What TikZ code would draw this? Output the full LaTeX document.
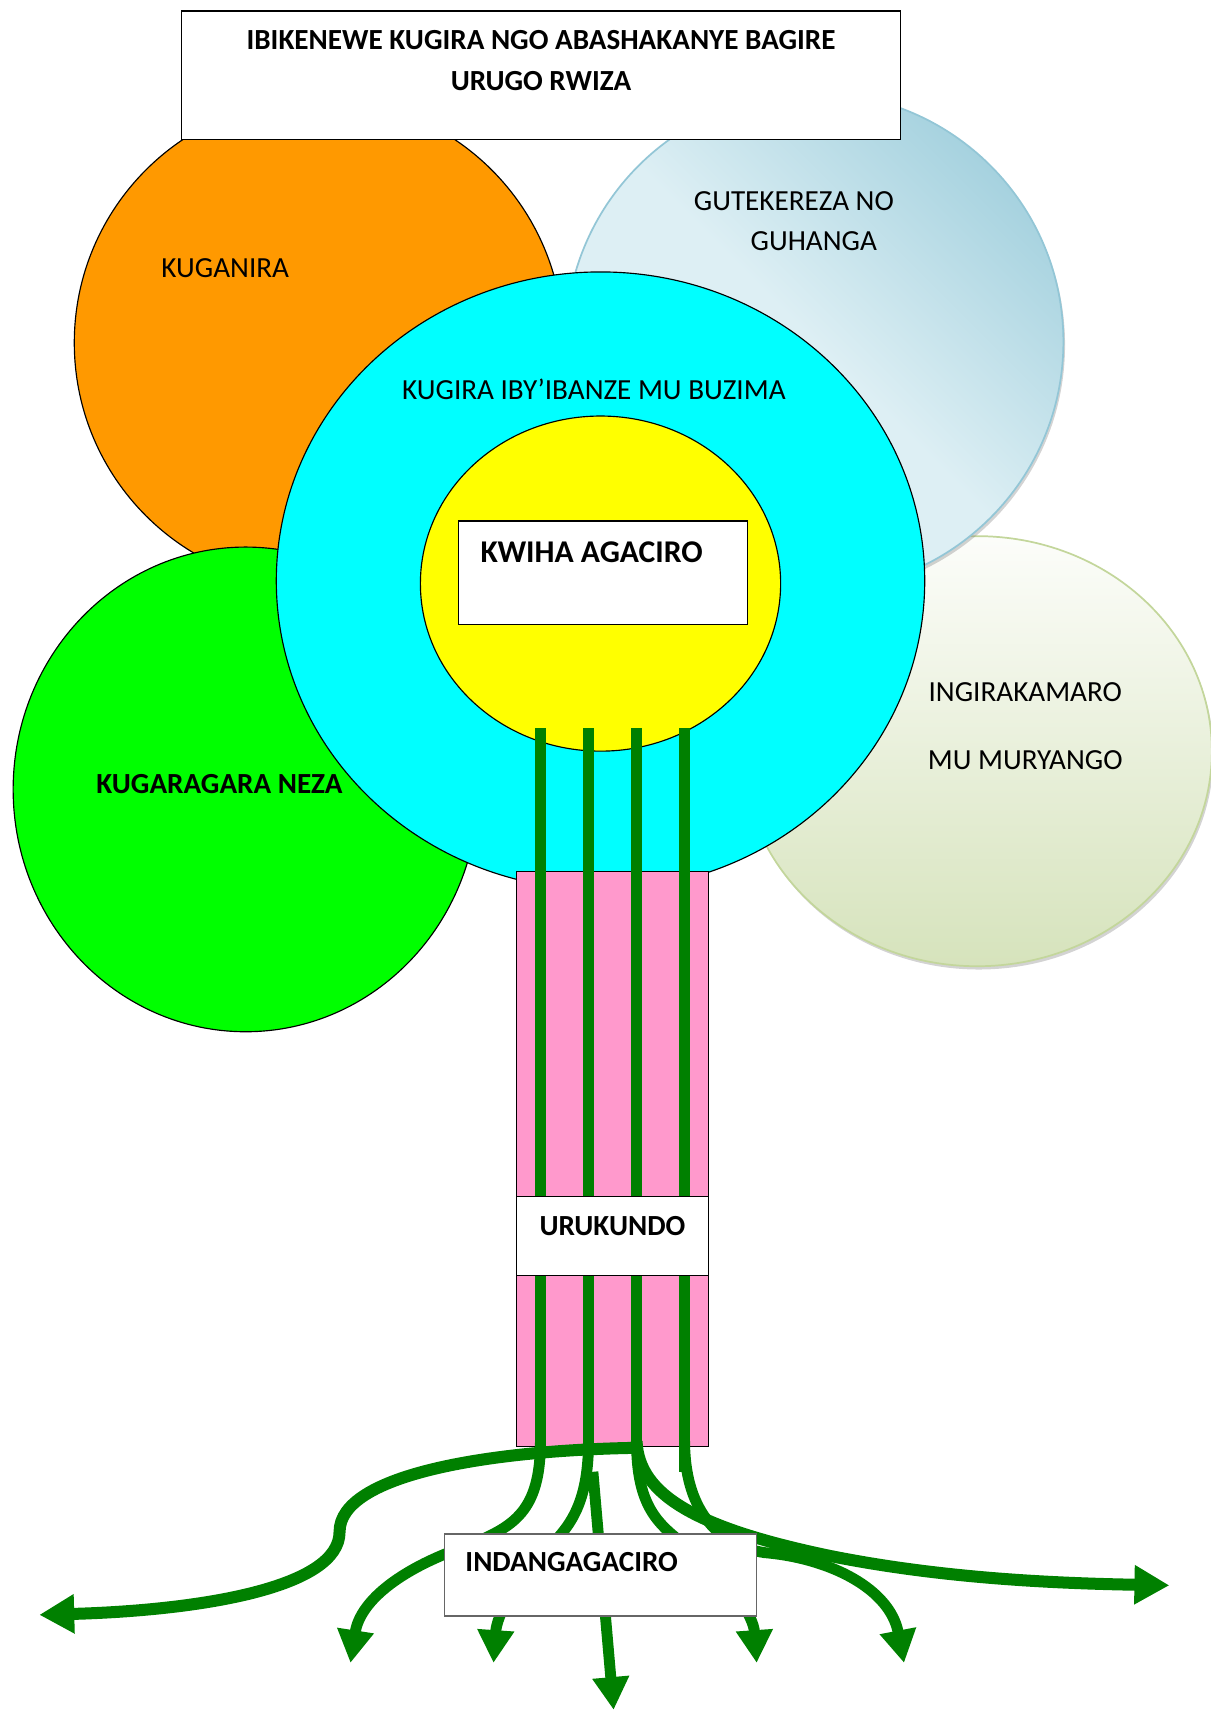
\documentclass[tikz,border=0pt]{standalone}
\usepackage{fontspec}
\setmainfont{Carlito}
\usetikzlibrary {positioning}
\usetikzlibrary{arrows.meta,shapes.geometric,shadows}
\definecolor {orangeball}{HTML}{FF9900}
\definecolor {limeball}{HTML}{00FF00}
\definecolor {cyanball}{HTML}{00FFFF}
\definecolor {yellowball}{HTML}{FFFF00}
\definecolor {trunkpink}{HTML}{FF99CC}
\definecolor {rootgreen}{HTML}{008000}
\definecolor {skylight}{HTML}{DDEFF4}
\definecolor {skydark}{HTML}{A6D2DF}
\definecolor {skyedge}{HTML}{93C6D6}
\definecolor {sagelight}{HTML}{FCFDFA}
\definecolor {sagedark}{HTML}{D6E3BC}
\definecolor {sageedge}{HTML}{C3D69B}

\begin{document}
\begin{tikzpicture}[x = 0.02cm , y = -0.02cm ,
semithick ,
ball/.style = { ellipse , draw , inner sep = 0pt},
paleball/.style = { ellipse , inner sep = 0pt , line width = 0.9pt ,
drop shadow = {shadow xshift = 0.03cm , shadow yshift = -0.06cm , opacity = 0.35}},
box/.style = { rectangle , draw , fill = white , inner sep = 0pt},
words/.style = { inner sep = 0pt , font = \fontsize{15.2}{21}\selectfont},
boldwords/.style = { inner sep = 0pt , font = \fontsize{15.2}{21}\selectfont\bfseries},
bar/.style = { draw = rootgreen , line width = 0.214cm},
root/.style = { draw = rootgreen , line width = 0.2cm ,
-{Triangle[length = 0.6cm , width = 0.64cm]}},
bigroot/.style = { root , line width = 0.22cm ,
-{Triangle[length = 0.64cm , width = 0.68cm]}}]

\useasboundingbox (0,0) rectangle (1109,1568);

% crown
\node[paleball , draw = sageedge , top color = sagelight , bottom color = sagedark ,
minimum width = 8.6cm , minimum height = 7.88cm] (muryango) at (895,688) {};
\node[paleball , draw = skyedge , top color = skydark , bottom color = skylight ,
middle color = skylight , shading angle = -45 , minimum size = 9.12cm] (gutekereza) at (746,313) {};
\node[ball , fill = orangeball , minimum size = 8.96cm] (kuganira) at (292,314) {};
\node[ball , fill = limeball , minimum width = 8.52cm , minimum height = 8.88cm] (kugaragara) at (225,723) {};

\node[box , minimum width = 13.18cm , minimum height = 2.36cm] (title) at (495.5,69) {};
\node[boldwords , align = center] (titletext) at (495.5,55.5)
{IBIKENEWE KUGIRA NGO ABASHAKANYE BAGIRE\\URUGO RWIZA};

\node[ball , fill = cyanball , minimum width = 11.88cm , minimum height = 11.32cm] (ibanze) at (550,532) {};
\node[ball , fill = yellowball , minimum width = 6.6cm , minimum height = 6.14cm] (agaciro) at (550,534.5) {};
\node[box , minimum width = 5.29cm , minimum height = 1.89cm] (kwiha) at (552.4,524.4) {};

\node[words] (kuganiratext) at (206.3,245.7) {KUGANIRA};
\node[words , anchor = west , align = left] (gutekerezatext) at (635,202.5)
{GUTEKEREZA NO\\\hspace*{1.04cm}GUHANGA};
\node[words] (ibanzetext) at (543.9,356.4) {KUGIRA IBY’IBANZE MU BUZIMA};
\node[boldwords , anchor = west , font = \fontsize{16.5}{20}\selectfont\bfseries] (kwihatext) at (439.6,505.7) {KWIHA AGACIRO};
\node[boldwords] (kugaragaratext) at (201,718) {KUGARAGARA NEZA};
\node[words , align = center , font = \fontsize{15.2}{35.6}\selectfont] (muryangotext) at (939,665.3)
{INGIRAKAMARO\\MU MURYANGO};

% trunk
\node[rectangle , draw , fill = trunkpink , inner sep = 0pt ,
minimum width = 3.52cm , minimum height = 10.54cm] (trunk) at (561,1061.5) {};

\coordinate (bar1) at (495,667);
\coordinate (bar2) at (539,667);
\coordinate (bar3) at (583,667);
\coordinate (bar4) at (627,667);
\coordinate (foot1) at (495,1325);
\coordinate (foot2) at (539,1325);
\coordinate (foot3) at (583,1325);
\coordinate (foot4) at (627,1348);

\draw[bar] (bar1) -- (foot1);
\draw[bar] (bar2) -- (foot2);
\draw[bar] (bar3) -- (foot3);
\draw[bar] (bar4) -- (foot4);

\node[box , minimum width = 3.52cm , minimum height = 1.44cm] (urukundo) at (561,1132) {};
\node[boldwords] (urukundotext) at (561,1123) {URUKUNDO};

% roots
\coordinate (root1) at (495,1320);
\coordinate (root2) at (539,1320);
\coordinate (root3) at (583,1320);
\coordinate (root4) at (627,1320);
\coordinate (root5) at (543,1348);
\coordinate (bend) at (585,1326);
\coordinate (tip1) at (321,1523);
\coordinate (tip2) at (452,1523);
\coordinate (tip3) at (562,1566);
\coordinate (tip4) at (693,1523);
\coordinate (tip5) at (828,1523);
\coordinate (tipwest) at (36,1479);
\coordinate (tipeast) at (1071,1452);

\draw[bigroot] (bend) .. controls (450,1328) and (311,1350) .. (311,1403)
 .. controls (311,1455) and (180,1475) .. (tipwest);
\draw[bigroot] (root3) .. controls (585,1370) and (640,1400) .. (760,1425)
 .. controls (860,1445) and (960,1450) .. (tipeast);

\draw[root] (root1) .. controls (495,1385) and (470,1398) .. (430,1415)
 .. controls (370,1435) and (330,1465) .. (tip1);
\draw[root] (root2) .. controls (539,1380) and (520,1400) .. (500,1420)
 .. controls (470,1450) and (455,1480) .. (tip2);
\draw[root] (root5) -- (tip3);
\draw[root] (root3) .. controls (583,1390) and (610,1400) .. (640,1425)
 .. controls (670,1450) and (690,1480) .. (tip4);
\draw[root] (root4) .. controls (627,1380) and (655,1415) .. (700,1422)
 .. controls (760,1427) and (815,1455) .. (tip5);

\node[box , draw = black!60 , minimum width = 5.71cm , minimum height = 1.5cm] (indangagaciro) at (550,1442.5) {};
\node[boldwords , anchor = west] (indangagacirotext) at (425.8,1431) {INDANGAGACIRO};

\end{tikzpicture}
\end{document}
